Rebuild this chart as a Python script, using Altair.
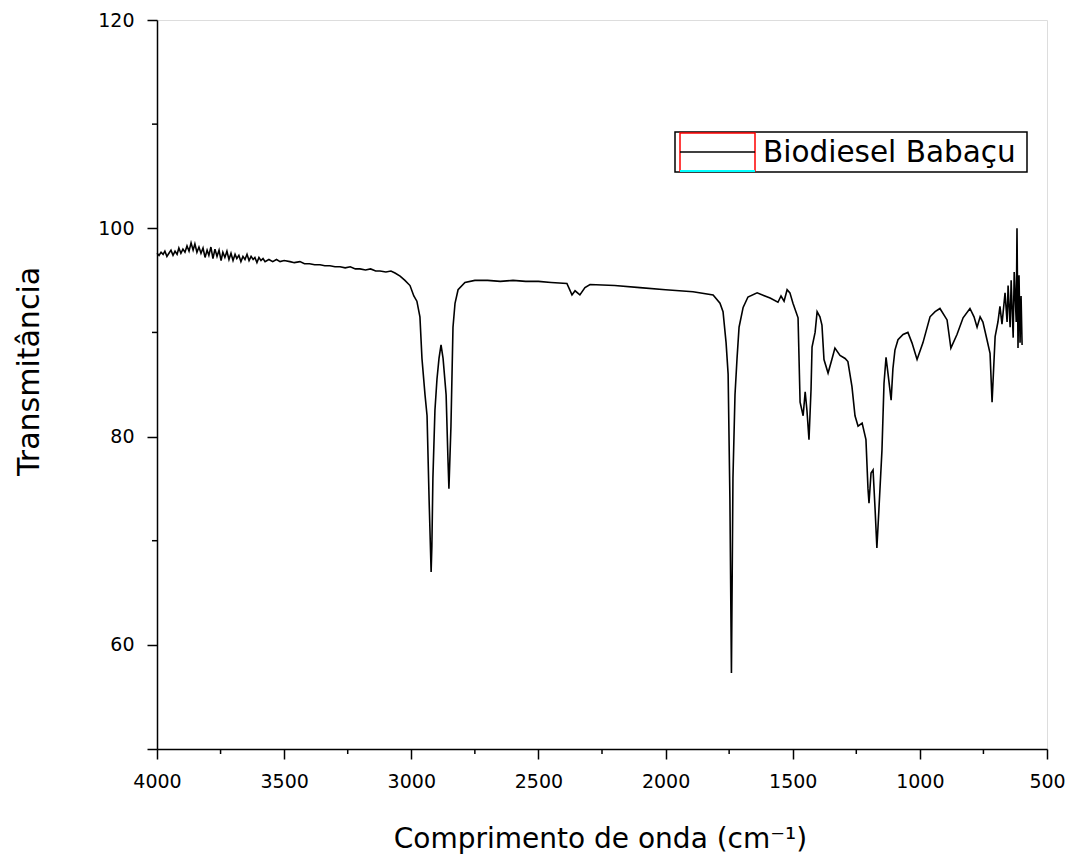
import altair as alt
import pandas as pd

# Wavenumber (cm-1) and transmittance
wavenumber = [
    4000, 3992, 3984, 3976, 3969, 3961, 3953, 3945, 3937, 3929, 3921, 3914, 3906, 3898, 3890,
    3882, 3874, 3866, 3858, 3851, 3843, 3835, 3827, 3819, 3811, 3803, 3796, 3788, 3780, 3772,
    3764, 3756, 3748, 3741, 3733, 3725, 3717, 3709, 3701, 3693, 3686, 3678, 3670, 3662, 3654,
    3646, 3638, 3630, 3622, 3615, 3607, 3599, 3591, 3583, 3575, 3560, 3545, 3530, 3516, 3500,
    3477, 3460, 3438, 3420, 3400, 3380, 3359, 3340, 3320, 3300, 3280, 3260, 3240, 3220, 3202,
    3180, 3160, 3140, 3123, 3100, 3080, 3064, 3044, 3025, 3005, 2990, 2978, 2966, 2958, 2946,
    2938, 2930, 2922, 2919, 2915, 2907, 2899, 2891, 2883, 2875, 2863, 2856, 2852, 2844, 2836,
    2828, 2816, 2789, 2750, 2700, 2650, 2600, 2550, 2500, 2450, 2388, 2368, 2356, 2337, 2317,
    2297, 2200, 2101, 2000, 1892, 1813, 1786, 1774, 1762, 1754, 1747, 1741, 1735, 1727, 1719,
    1711, 1695, 1676, 1640, 1589, 1558, 1546, 1534, 1522, 1511, 1499, 1479, 1471, 1459, 1451,
    1444, 1436, 1428, 1424, 1412, 1404, 1393, 1385, 1377, 1361, 1345, 1334, 1314, 1294, 1283,
    1267, 1255, 1243, 1227, 1212, 1204, 1200, 1192, 1184, 1176, 1169, 1161, 1149, 1141, 1133,
    1125, 1113, 1106, 1098, 1086, 1066, 1047, 1031, 1011, 988, 960, 940, 921, 893, 878,
    854, 830, 803, 787, 775, 763, 752, 736, 724, 716, 704, 693, 685, 677, 665,
    657, 653, 645, 641, 633, 629, 621, 618, 614, 610, 606, 602, 598,
]
transmittance = [
    97.6, 97.4, 97.7, 97.5, 97.8, 97.3, 97.6, 97.9, 97.4, 97.8, 97.5, 98.1, 97.6, 98.0, 97.7,
    98.3, 97.8, 98.6, 97.9, 98.5, 97.7, 98.2, 97.6, 98.1, 97.2, 97.9, 97.4, 98.2, 97.1, 98.0,
    97.3, 97.9, 96.9, 97.7, 97.2, 97.8, 97.0, 97.6, 96.9, 97.5, 97.1, 97.4, 96.8, 97.3, 97.0,
    97.5, 96.9, 97.3, 97.0, 97.2, 96.7, 97.2, 96.9, 97.1, 96.8, 97.0, 96.8, 97.0, 96.8, 96.9,
    96.8, 96.7, 96.8, 96.6, 96.6, 96.5, 96.5, 96.4, 96.4, 96.3, 96.3, 96.2, 96.3, 96.1, 96.1,
    96.0, 96.1, 95.9, 95.9, 95.8, 95.9, 95.7, 95.4, 95.0, 94.5, 93.5, 93.0, 91.5, 87.5, 84.0,
    82.0, 74.0, 67.0, 69.5, 76.0, 82.5, 85.5, 87.5, 88.8, 87.5, 84.0, 78.0, 75.0, 81.0, 90.5,
    92.8, 94.1, 94.8, 95.0, 95.0, 94.9, 95.0, 94.9, 94.9, 94.8, 94.7, 93.6, 94.0, 93.6, 94.3,
    94.6, 94.5, 94.3, 94.1, 93.9, 93.6, 92.8, 92.0, 89.0, 86.0, 74.0, 57.3, 76.0, 84.0, 87.5,
    90.5, 92.4, 93.4, 93.8, 93.3, 92.9, 93.5, 93.0, 94.1, 93.8, 92.8, 91.4, 83.3, 82.0, 84.3,
    82.5, 79.7, 84.5, 88.6, 90.0, 92.0, 91.5, 90.7, 87.4, 86.1, 87.5, 88.5, 87.8, 87.5, 87.2,
    84.8, 82.0, 81.0, 81.3, 79.7, 75.0, 73.6, 76.5, 76.8, 73.0, 69.3, 73.0, 78.7, 85.1, 87.6,
    86.0, 83.5, 86.5, 88.3, 89.3, 89.8, 90.0, 89.0, 87.4, 89.0, 91.5, 92.0, 92.3, 91.2, 88.5,
    89.8, 91.4, 92.3, 91.5, 90.5, 91.5, 91.0, 89.3, 88.0, 83.3, 89.6, 91.0, 92.5, 90.8, 93.8,
    91.0, 94.5, 90.5, 95.0, 89.5, 95.8, 91.0, 100.0, 88.5, 95.5, 89.0, 93.5, 88.8,
]

x_major = [4000, 3500, 3000, 2500, 2000, 1500, 1000, 500]
x_minor = [3750, 3250, 2750, 2250, 1750, 1250, 750]
y_major = [50, 60, 80, 100, 120]
y_minor = [70, 90, 110]
series_name = "Biodiesel Babaçu"

W, H = 890, 729
FONT = "DejaVu Sans"

df = pd.DataFrame({"wn": wavenumber, "t": transmittance, "idx": range(len(wavenumber))})

xscale = alt.Scale(domain=[500, 4000], reverse=True, nice=False, zero=False)
yscale = alt.Scale(domain=[50, 120], nice=False, zero=False)

line = alt.Chart(df).mark_line(color="black", strokeWidth=1.6).encode(
    x=alt.X("wn:Q", scale=xscale, axis=alt.Axis(
        values=x_major, format="d", title="Comprimento de onda (cm⁻¹)",
        tickSize=10, tickColor="black", tickWidth=1.5, domainColor="black", domainWidth=1.5,
        labelFont=FONT, labelFontSize=19, labelColor="black", labelPadding=13,
        labelFlush=False, labelOverlap=False,
        titleFont=FONT, titleFontSize=28, titleFontWeight="normal", titleColor="black",
        titleX=443, titleY=76, titleBaseline="top", grid=False)),
    y=alt.Y("t:Q", scale=yscale, axis=alt.Axis(
        values=y_major, labelExpr="datum.value == 50 ? '' : datum.label",
        title="Transmitância",
        tickSize=10, tickColor="black", tickWidth=1.5, domainColor="black", domainWidth=1.5,
        labelFont=FONT, labelFontSize=19, labelColor="black", labelPadding=13,
        labelFlush=False, labelOverlap=False,
        titleFont=FONT, titleFontSize=30, titleFontWeight="normal", titleColor="black",
        titleX=-113, titleY=351, titleBaseline="bottom", grid=False)),
    order="idx:Q",
)

xminor = alt.Chart(pd.DataFrame({"wn": x_minor})).mark_rule(color="black", strokeWidth=1.5).encode(
    x=alt.X("wn:Q", scale=xscale), y=alt.value(H), y2=alt.value(H + 5))
yminor = alt.Chart(pd.DataFrame({"t": y_minor})).mark_rule(color="black", strokeWidth=1.5).encode(
    y=alt.Y("t:Q", scale=yscale), x=alt.value(0), x2=alt.value(-5))

one = pd.DataFrame({"name": [series_name]})
box = alt.Chart(one).mark_rect(fill="white", stroke="black", strokeWidth=1.5).encode(
    x=alt.value(518), x2=alt.value(870), y=alt.value(112), y2=alt.value(152))
redbox = alt.Chart(one).mark_rect(fill="white", stroke="red", strokeWidth=1.5).encode(
    x=alt.value(523), x2=alt.value(598), y=alt.value(113), y2=alt.value(151))
cyan = alt.Chart(one).mark_rule(color="cyan", strokeWidth=2).encode(
    x=alt.value(523), x2=alt.value(598), y=alt.value(151))
sample = alt.Chart(one).mark_rule(color="black", strokeWidth=1.5).encode(
    x=alt.value(523), x2=alt.value(598), y=alt.value(132))
label = alt.Chart(one).mark_text(font=FONT, fontSize=29.5, align="left", baseline="middle",
                                 color="black").encode(
    x=alt.value(606), y=alt.value(133), text="name:N")

chart = alt.layer(line, xminor, yminor, box, redbox, cyan, sample, label).properties(
    width=W, height=H,
    autosize=alt.AutoSizeParams(type="none"),
    padding={"left": 157, "top": 20, "right": 26, "bottom": 110},
).configure_view(stroke=None).configure(background="white")

chart.save("out.html", embed_options={"renderer": "svg", "actions": False})
